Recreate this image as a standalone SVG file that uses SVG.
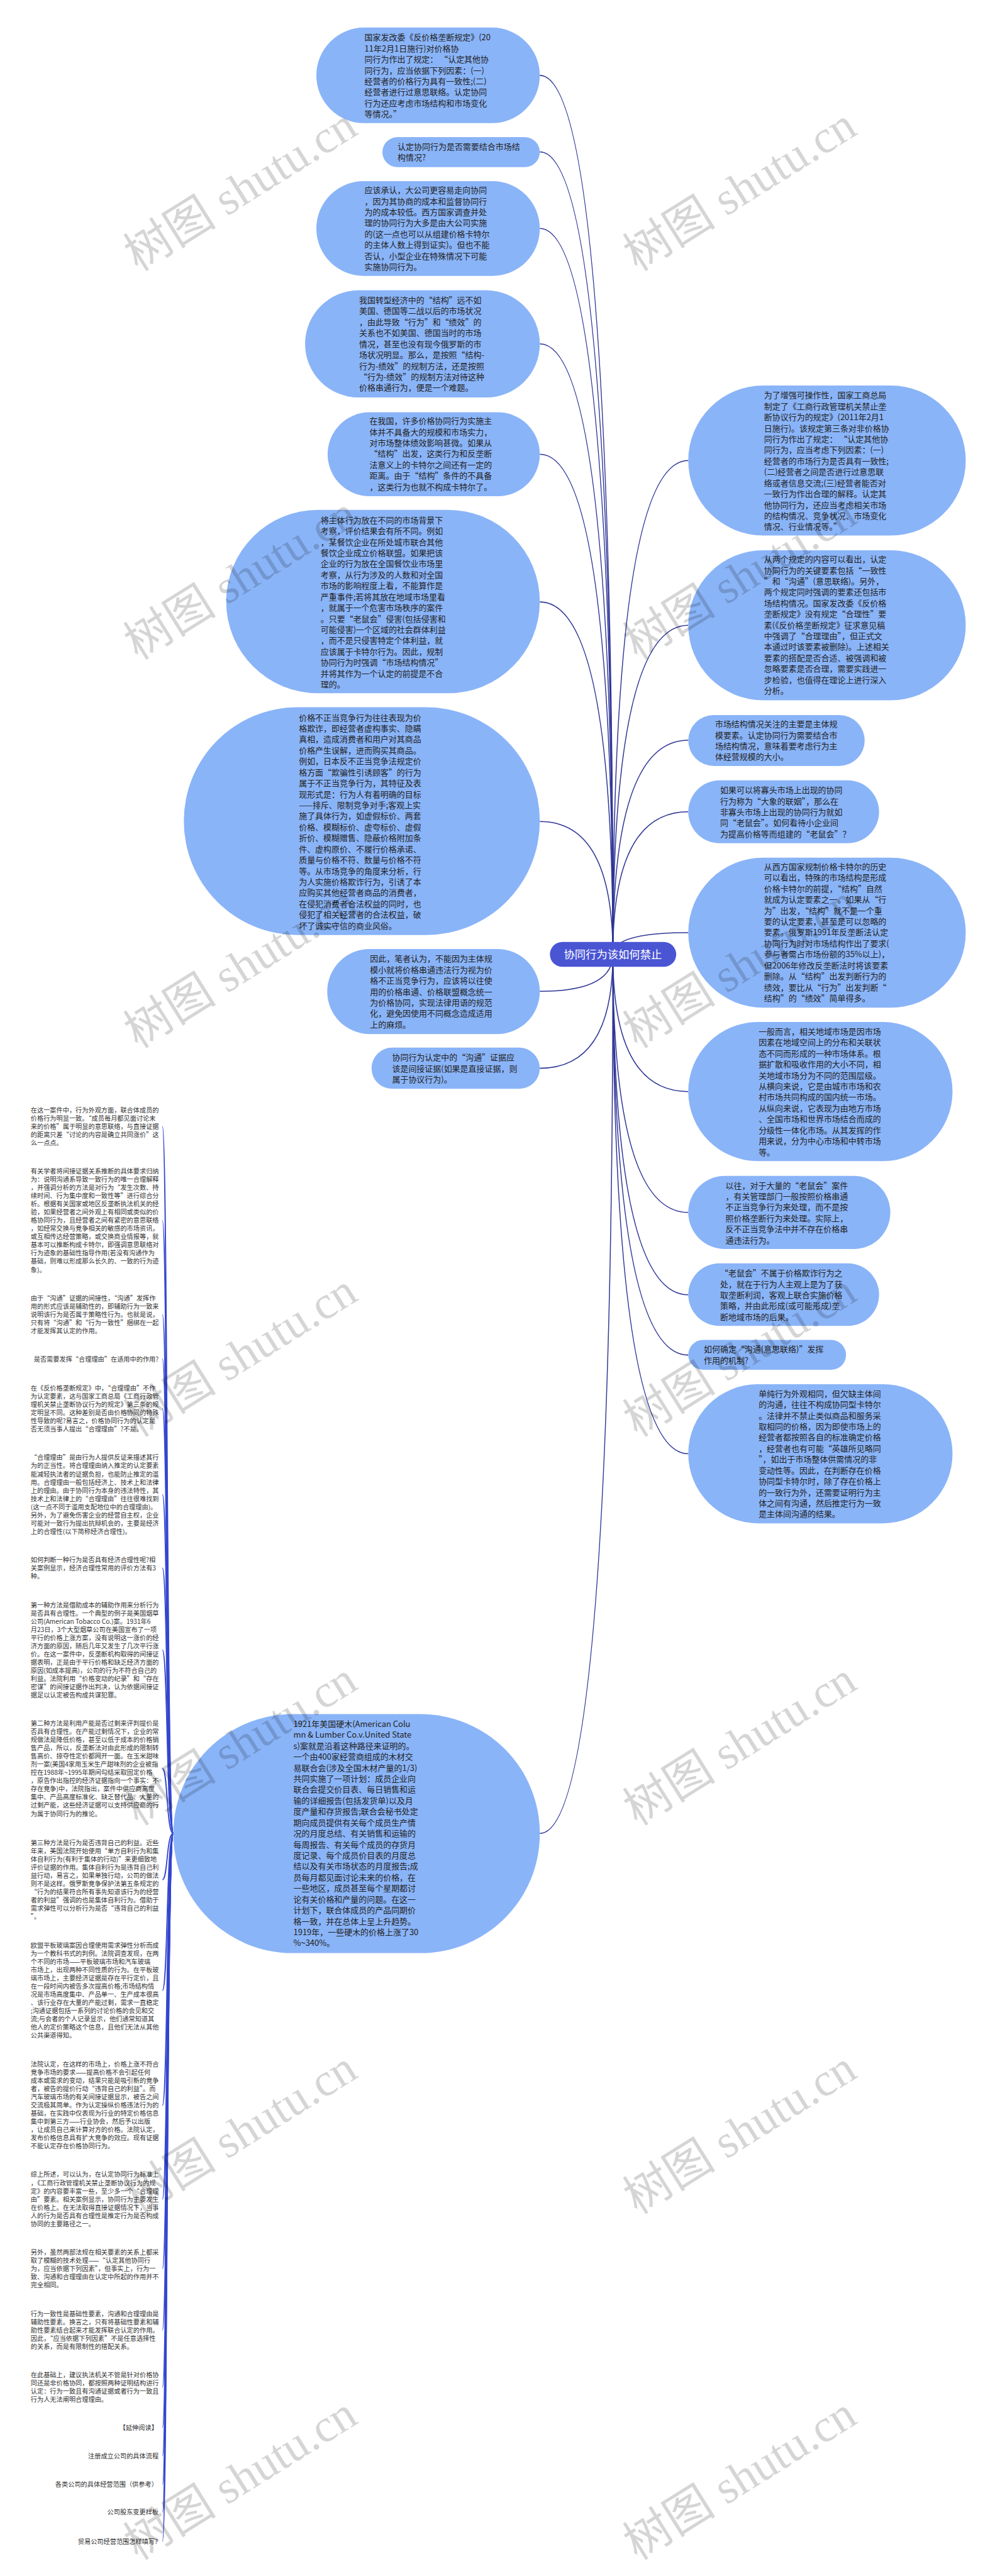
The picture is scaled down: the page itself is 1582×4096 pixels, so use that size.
<svg xmlns="http://www.w3.org/2000/svg" width="1582" height="4096" viewBox="0 0 1582 4096">
<style>
.b{fill:#8ab4f8}
.t{font-family:"Noto Sans CJK SC","Microsoft YaHei",sans-serif;font-size:21px;fill:#222}
.s{font-family:"Noto Sans CJK SC","Microsoft YaHei",sans-serif;font-size:16.5px;fill:#333}
.c{fill:none;stroke:#2f3596;stroke-width:2.5}
.c2{fill:none;stroke:#3446cf;stroke-width:3}
.wm{font-family:"Liberation Serif","Noto Sans CJK SC",serif;font-size:120px;fill:#000;opacity:.16}
</style>
<rect width="1582" height="4096" fill="#fff"/>
<g transform="scale(0.6179)">
<g id="connectors">
<path class="c" d="M1577 2456 Q1577 194 1389 194"/>
<path class="c" d="M1577 2456 Q1577 391 1389 391"/>
<path class="c" d="M1577 2456 Q1577 588 1389 588"/>
<path class="c" d="M1577 2456 Q1577 885 1389 885"/>
<path class="c" d="M1577 2456 Q1577 1169 1389 1169"/>
<path class="c" d="M1577 2456 Q1577 1549 1389 1549"/>
<path class="c" d="M1577 2456 Q1577 2114 1389 2114"/>
<path class="c" d="M1577 2456 Q1577 2551 1389 2551"/>
<path class="c" d="M1577 2456 Q1577 2749 1389 2749"/>
<path class="c" d="M1577 2456 Q1577 4718 1389 4718"/>
<path class="c" d="M1577 2456 Q1577 1185 1771 1185"/>
<path class="c" d="M1577 2456 Q1577 1609 1771 1609"/>
<path class="c" d="M1577 2456 Q1577 1905 1771 1905"/>
<path class="c" d="M1577 2456 Q1577 2089 1771 2089"/>
<path class="c" d="M1577 2456 Q1577 2400 1771 2400"/>
<path class="c" d="M1577 2456 Q1577 2809 1771 2809"/>
<path class="c" d="M1577 2456 Q1577 3120 1771 3120"/>
<path class="c" d="M1577 2456 Q1577 3332 1771 3332"/>
<path class="c" d="M1577 2456 Q1577 3487 1771 3487"/>
<path class="c" d="M1577 2456 Q1577 3741 1771 3741"/>
<path class="c2" d="M446 4718 C428 4718 432 2899 418 2899"/>
<path class="c2" d="M446 4718 C428 4718 432 3141 418 3141"/>
<path class="c2" d="M446 4718 C428 4718 432 3383 418 3383"/>
<path class="c2" d="M446 4718 C428 4718 432 3497 418 3497"/>
<path class="c2" d="M446 4718 C428 4718 432 3625 418 3625"/>
<path class="c2" d="M446 4718 C428 4718 432 3846 418 3846"/>
<path class="c2" d="M446 4718 C428 4718 432 4035 418 4035"/>
<path class="c2" d="M446 4718 C428 4718 432 4246 418 4246"/>
<path class="c2" d="M446 4718 C428 4718 432 4551 418 4551"/>
<path class="c2" d="M446 4718 C428 4718 432 4837 418 4837"/>
<path class="c2" d="M446 4718 C428 4718 432 5122 418 5122"/>
<path class="c2" d="M446 4718 C428 4718 432 5418 418 5418"/>
<path class="c2" d="M446 4718 C428 4718 432 5659 418 5659"/>
<path class="c2" d="M446 4718 C428 4718 432 5838 418 5838"/>
<path class="c2" d="M446 4718 C428 4718 432 5996 418 5996"/>
<path class="c2" d="M446 4718 C428 4718 432 6143 418 6143"/>
<path class="c2" d="M446 4718 C428 4718 432 6247 418 6247"/>
<path class="c2" d="M446 4718 C428 4718 432 6320 418 6320"/>
<path class="c2" d="M446 4718 C428 4718 432 6393 418 6393"/>
<path class="c2" d="M446 4718 C428 4718 432 6465 418 6465"/>
<path class="c2" d="M446 4718 C428 4718 432 6540 418 6540"/>
</g>
<g id="root">
<rect x="1415" y="2424" width="325" height="64" rx="32" fill="#4a55d4"/>
<text x="1577" y="2466" text-anchor="middle" font-family="Noto Sans CJK SC,sans-serif" font-size="28" fill="#fff">协同行为该如何禁止</text>
</g>
<g id="nA"><rect class="b" x="814" y="71" width="575" height="246" rx="123"/>
<text class="t" y="104"><tspan x="938">国家发改委《反价格垄断规定》(20</tspan><tspan x="938" dy="28.2">11年2月1日施行)对价格协</tspan><tspan x="938" dy="28.2">同行为作出了规定： “认定其他协</tspan><tspan x="938" dy="28.2">同行为，应当依据下列因素：(一)</tspan><tspan x="938" dy="28.2">经营者的价格行为具有一致性;(二)</tspan><tspan x="938" dy="28.2">经营者进行过意思联络。认定协同</tspan><tspan x="938" dy="28.2">行为还应考虑市场结构和市场变化</tspan><tspan x="938" dy="28.2">等情况。”</tspan></text></g>
<g id="nB"><rect class="b" x="984" y="353" width="405" height="77" rx="38.5"/>
<text class="t" y="385"><tspan x="1023">认定协同行为是否需要结合市场结</tspan><tspan x="1023" dy="28.2">构情况?</tspan></text></g>
<g id="nC"><rect class="b" x="814" y="466" width="575" height="244" rx="122"/>
<text class="t" y="497"><tspan x="938">应该承认，大公司更容易走向协同</tspan><tspan x="938" dy="28.2">，因为其协商的成本和监督协同行</tspan><tspan x="938" dy="28.2">为的成本较低。西方国家调查并处</tspan><tspan x="938" dy="28.2">理的协同行为大多是由大公司实施</tspan><tspan x="938" dy="28.2">的(这一点也可以从组建价格卡特尔</tspan><tspan x="938" dy="28.2">的主体人数上得到证实)。但也不能</tspan><tspan x="938" dy="28.2">否认，小型企业在特殊情况下可能</tspan><tspan x="938" dy="28.2">实施协同行为。</tspan></text></g>
<g id="nD"><rect class="b" x="785" y="747" width="604" height="276" rx="138"/>
<text class="t" y="780"><tspan x="924">我国转型经济中的“结构”远不如</tspan><tspan x="924" dy="28.2">美国、德国等二战以后的市场状况</tspan><tspan x="924" dy="28.2">，由此导致“行为”和“绩效”的</tspan><tspan x="924" dy="28.2">关系也不如美国、德国当时的市场</tspan><tspan x="924" dy="28.2">情况，甚至也没有现今俄罗斯的市</tspan><tspan x="924" dy="28.2">场状况明显。那么，是按照“结构-</tspan><tspan x="924" dy="28.2">行为-绩效”的规制方法，还是按照</tspan><tspan x="924" dy="28.2">“行为-绩效”的规制方法对待这种</tspan><tspan x="924" dy="28.2">价格串通行为，便是一个难题。</tspan></text></g>
<g id="nE"><rect class="b" x="843" y="1061" width="546" height="216" rx="108"/>
<text class="t" y="1091"><tspan x="951">在我国，许多价格协同行为实施主</tspan><tspan x="951" dy="28.2">体并不具备大的规模和市场实力，</tspan><tspan x="951" dy="28.2">对市场整体绩效影响甚微。如果从</tspan><tspan x="951" dy="28.2">“结构”出发，这类行为和反垄断</tspan><tspan x="951" dy="28.2">法意义上的卡特尔之间还有一定的</tspan><tspan x="951" dy="28.2">距离。由于“结构”条件的不具备</tspan><tspan x="951" dy="28.2">，这类行为也就不构成卡特尔了。</tspan></text></g>
<g id="nF"><rect class="b" x="582" y="1312" width="807" height="472" rx="236"/>
<text class="t" y="1346"><tspan x="825">将主体行为放在不同的市场背景下</tspan><tspan x="825" dy="28.2">考察，评价结果会有所不同。例如</tspan><tspan x="825" dy="28.2">，某餐饮企业在所处城市联合其他</tspan><tspan x="825" dy="28.2">餐饮企业成立价格联盟。如果把该</tspan><tspan x="825" dy="28.2">企业的行为放在全国餐饮业市场里</tspan><tspan x="825" dy="28.2">考察，从行为涉及的人数和对全国</tspan><tspan x="825" dy="28.2">市场的影响程度上看，不能算作是</tspan><tspan x="825" dy="28.2">严重事件;若将其放在地域市场里看</tspan><tspan x="825" dy="28.2">，就属于一个危害市场秩序的案件</tspan><tspan x="825" dy="28.2">。只要“老鼠会”侵害(包括侵害和</tspan><tspan x="825" dy="28.2">可能侵害)一个区域的社会群体利益</tspan><tspan x="825" dy="28.2">，而不是只侵害特定个体利益，就</tspan><tspan x="825" dy="28.2">应该属于卡特尔行为。因此，规制</tspan><tspan x="825" dy="28.2">协同行为时强调“市场结构情况”</tspan><tspan x="825" dy="28.2">并将其作为一个认定的前提是不合</tspan><tspan x="825" dy="28.2">理的。</tspan></text></g>
<g id="nG"><rect class="b" x="473" y="1820" width="916" height="586" rx="293"/>
<text class="t" y="1854"><tspan x="769">价格不正当竞争行为往往表现为价</tspan><tspan x="769" dy="28.2">格欺诈，即经营者虚构事实、隐瞒</tspan><tspan x="769" dy="28.2">真相，造成消费者和用户对其商品</tspan><tspan x="769" dy="28.2">价格产生误解，进而购买其商品。</tspan><tspan x="769" dy="28.2">例如，日本反不正当竞争法规定价</tspan><tspan x="769" dy="28.2">格方面“欺骗性引诱顾客”的行为</tspan><tspan x="769" dy="28.2">属于不正当竞争行为，其特征及表</tspan><tspan x="769" dy="28.2">现形式是：行为人有着明确的目标</tspan><tspan x="769" dy="28.2">——排斥、限制竞争对手;客观上实</tspan><tspan x="769" dy="28.2">施了具体行为，如虚假标价、两套</tspan><tspan x="769" dy="28.2">价格、模糊标价、虚夸标价、虚假</tspan><tspan x="769" dy="28.2">折价、模糊赠售、隐蔽价格附加条</tspan><tspan x="769" dy="28.2">件、虚构原价、不履行价格承诺、</tspan><tspan x="769" dy="28.2">质量与价格不符、数量与价格不符</tspan><tspan x="769" dy="28.2">等。从市场竞争的角度来分析，行</tspan><tspan x="769" dy="28.2">为人实施价格欺诈行为，引诱了本</tspan><tspan x="769" dy="28.2">应购买其他经营者商品的消费者，</tspan><tspan x="769" dy="28.2">在侵犯消费者合法权益的同时，也</tspan><tspan x="769" dy="28.2">侵犯了相关经营者的合法权益，破</tspan><tspan x="769" dy="28.2">坏了诚实守信的商业风俗。</tspan></text></g>
<g id="nH"><rect class="b" x="842" y="2442" width="547" height="219" rx="109.5"/>
<text class="t" y="2475"><tspan x="952">因此，笔者认为，不能因为主体规</tspan><tspan x="952" dy="28.2">模小就将价格串通违法行为视为价</tspan><tspan x="952" dy="28.2">格不正当竞争行为，应该将以往使</tspan><tspan x="952" dy="28.2">用的价格串通、价格联盟概念统一</tspan><tspan x="952" dy="28.2">为价格协同，实现法律用语的规范</tspan><tspan x="952" dy="28.2">化，避免因使用不同概念造成适用</tspan><tspan x="952" dy="28.2">上的麻烦。</tspan></text></g>
<g id="nI"><rect class="b" x="956" y="2696" width="433" height="106" rx="53"/>
<text class="t" y="2729"><tspan x="1009">协同行为认定中的“沟通”证据应</tspan><tspan x="1009" dy="28.2">该是间接证据(如果是直接证据，则</tspan><tspan x="1009" dy="28.2">属于协议行为)。</tspan></text></g>
<g id="nJ"><rect class="b" x="446" y="4411" width="943" height="615" rx="307"/>
<text class="t" y="4444"><tspan x="755">1921年美国硬木(American Colu</tspan><tspan x="755" dy="28.2">mn &amp; Lumber Co.v.United State</tspan><tspan x="755" dy="28.2">s)案就是沿着这种路径来证明的。</tspan><tspan x="755" dy="28.2">一个由400家经营商组成的木材交</tspan><tspan x="755" dy="28.2">易联合会(涉及全国木材产量的1/3)</tspan><tspan x="755" dy="28.2">共同实施了一项计划：成员企业向</tspan><tspan x="755" dy="28.2">联合会提交价目表、每日销售和运</tspan><tspan x="755" dy="28.2">输的详细报告(包括发货单)以及月</tspan><tspan x="755" dy="28.2">度产量和存货报告;联合会秘书处定</tspan><tspan x="755" dy="28.2">期向成员提供有关每个成员生产情</tspan><tspan x="755" dy="28.2">况的月度总结、有关销售和运输的</tspan><tspan x="755" dy="28.2">每周报告、有关每个成员的存货月</tspan><tspan x="755" dy="28.2">度记录、每个成员价目表的月度总</tspan><tspan x="755" dy="28.2">结以及有关市场状态的月度报告;成</tspan><tspan x="755" dy="28.2">员每月都见面讨论未来的价格，在</tspan><tspan x="755" dy="28.2">一些地区，成员甚至每个星期都讨</tspan><tspan x="755" dy="28.2">论有关价格和产量的问题。在这一</tspan><tspan x="755" dy="28.2">计划下，联合体成员的产品同期价</tspan><tspan x="755" dy="28.2">格一致，并在总体上呈上升趋势。</tspan><tspan x="755" dy="28.2">1919年，一些硬木的价格上涨了30</tspan><tspan x="755" dy="28.2">%~340%。</tspan></text></g>
<g id="nR1"><rect class="b" x="1771" y="992" width="714" height="386" rx="193"/>
<text class="t" y="1025"><tspan x="1966">为了增强可操作性，国家工商总局</tspan><tspan x="1966" dy="28.2">制定了《工商行政管理机关禁止垄</tspan><tspan x="1966" dy="28.2">断协议行为的规定》(2011年2月1</tspan><tspan x="1966" dy="28.2">日施行)。该规定第三条对非价格协</tspan><tspan x="1966" dy="28.2">同行为作出了规定： “认定其他协</tspan><tspan x="1966" dy="28.2">同行为，应当考虑下列因素：(一)</tspan><tspan x="1966" dy="28.2">经营者的市场行为是否具有一致性;</tspan><tspan x="1966" dy="28.2">(二)经营者之间是否进行过意思联</tspan><tspan x="1966" dy="28.2">络或者信息交流;(三)经营者能否对</tspan><tspan x="1966" dy="28.2">一致行为作出合理的解释。认定其</tspan><tspan x="1966" dy="28.2">他协同行为，还应当考虑相关市场</tspan><tspan x="1966" dy="28.2">的结构情况、竞争状况、市场变化</tspan><tspan x="1966" dy="28.2">情况、行业情况等。”</tspan></text></g>
<g id="nR2"><rect class="b" x="1771" y="1416" width="714" height="386" rx="193"/>
<text class="t" y="1447"><tspan x="1966">从两个规定的内容可以看出，认定</tspan><tspan x="1966" dy="28.2">协同行为的关键要素包括“一致性</tspan><tspan x="1966" dy="28.2">”和“沟通”(意思联络)。另外，</tspan><tspan x="1966" dy="28.2">两个规定同时强调的要素还包括市</tspan><tspan x="1966" dy="28.2">场结构情况。国家发改委《反价格</tspan><tspan x="1966" dy="28.2">垄断规定》没有规定“合理性”要</tspan><tspan x="1966" dy="28.2">素(《反价格垄断规定》征求意见稿</tspan><tspan x="1966" dy="28.2">中强调了“合理理由”，但正式文</tspan><tspan x="1966" dy="28.2">本通过时该要素被删除)。上述相关</tspan><tspan x="1966" dy="28.2">要素的搭配是否合适、被强调和被</tspan><tspan x="1966" dy="28.2">忽略要素是否合理，需要实践进一</tspan><tspan x="1966" dy="28.2">步检验，也值得在理论上进行深入</tspan><tspan x="1966" dy="28.2">分析。</tspan></text></g>
<g id="nR3"><rect class="b" x="1771" y="1840" width="454" height="131" rx="65.5"/>
<text class="t" y="1871"><tspan x="1840">市场结构情况关注的主要是主体规</tspan><tspan x="1840" dy="28.2">模要素。认定协同行为需要结合市</tspan><tspan x="1840" dy="28.2">场结构情况，意味着要考虑行为主</tspan><tspan x="1840" dy="28.2">体经营规模的大小。</tspan></text></g>
<g id="nR4"><rect class="b" x="1771" y="2008" width="491" height="162" rx="81"/>
<text class="t" y="2041"><tspan x="1853">如果可以将寡头市场上出现的协同</tspan><tspan x="1853" dy="28.2">行为称为“大象的联姻”，那么在</tspan><tspan x="1853" dy="28.2">非寡头市场上出现的协同行为就如</tspan><tspan x="1853" dy="28.2">同“老鼠会”。如何看待小企业间</tspan><tspan x="1853" dy="28.2">为提高价格等而组建的“老鼠会”？</tspan></text></g>
<g id="nR5"><rect class="b" x="1771" y="2207" width="714" height="386" rx="193"/>
<text class="t" y="2238"><tspan x="1966">从西方国家规制价格卡特尔的历史</tspan><tspan x="1966" dy="28.2">可以看出，特殊的市场结构是形成</tspan><tspan x="1966" dy="28.2">价格卡特尔的前提，“结构”自然</tspan><tspan x="1966" dy="28.2">就成为认定要素之一。如果从“行</tspan><tspan x="1966" dy="28.2">为”出发，“结构”就不是一个重</tspan><tspan x="1966" dy="28.2">要的认定要素，甚至是可以忽略的</tspan><tspan x="1966" dy="28.2">要素。俄罗斯1991年反垄断法认定</tspan><tspan x="1966" dy="28.2">协同行为时对市场结构作出了要求(</tspan><tspan x="1966" dy="28.2">参与者需占市场份额的35%以上)，</tspan><tspan x="1966" dy="28.2">但2006年修改反垄断法时将该要素</tspan><tspan x="1966" dy="28.2">删除。从“结构”出发判断行为的</tspan><tspan x="1966" dy="28.2">绩效，要比从“行为”出发判断“</tspan><tspan x="1966" dy="28.2">结构”的“绩效”简单得多。</tspan></text></g>
<g id="nR6"><rect class="b" x="1771" y="2630" width="680" height="358" rx="179"/>
<text class="t" y="2662"><tspan x="1952">一般而言，相关地域市场是因市场</tspan><tspan x="1952" dy="28.2">因素在地域空间上的分布和关联状</tspan><tspan x="1952" dy="28.2">态不同而形成的一种市场体系。根</tspan><tspan x="1952" dy="28.2">据扩散和吸收作用的大小不同，相</tspan><tspan x="1952" dy="28.2">关地域市场分为不同的范围层级。</tspan><tspan x="1952" dy="28.2">从横向来说，它是由城市市场和农</tspan><tspan x="1952" dy="28.2">村市场共同构成的国内统一市场。</tspan><tspan x="1952" dy="28.2">从纵向来说，它表现为由地方市场</tspan><tspan x="1952" dy="28.2">、全国市场和世界市场结合而成的</tspan><tspan x="1952" dy="28.2">分级性一体化市场。从其发挥的作</tspan><tspan x="1952" dy="28.2">用来说，分为中心市场和中转市场</tspan><tspan x="1952" dy="28.2">等。</tspan></text></g>
<g id="nR7"><rect class="b" x="1771" y="3026" width="520" height="188" rx="94"/>
<text class="t" y="3058"><tspan x="1867">以往，对于大量的“老鼠会”案件</tspan><tspan x="1867" dy="28.2">，有关管理部门一般按照价格串通</tspan><tspan x="1867" dy="28.2">不正当竞争行为来处理，而不是按</tspan><tspan x="1867" dy="28.2">照价格垄断行为来处理。实际上，</tspan><tspan x="1867" dy="28.2">反不正当竞争法中并不存在价格串</tspan><tspan x="1867" dy="28.2">通违法行为。</tspan></text></g>
<g id="nR8"><rect class="b" x="1771" y="3251" width="491" height="161" rx="80.5"/>
<text class="t" y="3284"><tspan x="1853">“老鼠会”不属于价格欺诈行为之</tspan><tspan x="1853" dy="28.2">处，就在于行为人主观上是为了获</tspan><tspan x="1853" dy="28.2">取垄断利润，客观上联合实施价格</tspan><tspan x="1853" dy="28.2">策略，并由此形成(或可能形成)垄</tspan><tspan x="1853" dy="28.2">断地域市场的后果。</tspan></text></g>
<g id="nR9"><rect class="b" x="1771" y="3448" width="406" height="77" rx="38.5"/>
<text class="t" y="3480"><tspan x="1811">如何确定“沟通(意思联络)”发挥</tspan><tspan x="1811" dy="28.2">作用的机制?</tspan></text></g>
<g id="nR10"><rect class="b" x="1771" y="3562" width="680" height="358" rx="179"/>
<text class="t" y="3594"><tspan x="1952">单纯行为外观相同，但欠缺主体间</tspan><tspan x="1952" dy="28.2">的沟通，往往不构成协同型卡特尔</tspan><tspan x="1952" dy="28.2">。法律并不禁止类似商品和服务采</tspan><tspan x="1952" dy="28.2">取相同的价格，因为即使市场上的</tspan><tspan x="1952" dy="28.2">经营者都按照各自的标准确定价格</tspan><tspan x="1952" dy="28.2">，经营者也有可能“英雄所见略同</tspan><tspan x="1952" dy="28.2">”，如出于市场整体供需情况的非</tspan><tspan x="1952" dy="28.2">变动性等。因此，在判断存在价格</tspan><tspan x="1952" dy="28.2">协同型卡特尔时，除了存在价格上</tspan><tspan x="1952" dy="28.2">的一致行为外，还需要证明行为主</tspan><tspan x="1952" dy="28.2">体之间有沟通，然后推定行为一致</tspan><tspan x="1952" dy="28.2">是主体间沟通的结果。</tspan></text></g>
<g id="nT1"><text class="s" y="2863"><tspan x="79">在这一案件中，行为外观方面，联合体成员的</tspan><tspan x="79" dy="21.1">价格行为明显一致。“成员每月都见面讨论未</tspan><tspan x="79" dy="21.1">来的价格”属于明显的意思联络，与直接证据</tspan><tspan x="79" dy="21.1">的距离只差“讨论的内容是确立共同涨价”这</tspan><tspan x="79" dy="21.1">么一点点。</tspan></text></g>
<g id="nT2"><text class="s" y="3020"><tspan x="79">有关学者将间接证据关系推断的具体要求归纳</tspan><tspan x="79" dy="21.1">为：说明沟通系导致一致行为的唯一合理解释</tspan><tspan x="79" dy="21.1">，并强调分析的方法是对行为“发生次数、持</tspan><tspan x="79" dy="21.1">续时间、行为集中度和一致性等”进行综合分</tspan><tspan x="79" dy="21.1">析。根据有关国家或地区反垄断执法机关的经</tspan><tspan x="79" dy="21.1">验，如果经营者之间外观上有相同或类似的价</tspan><tspan x="79" dy="21.1">格协同行为，且经营者之间有紧密的意思联络</tspan><tspan x="79" dy="21.1">，如经常交换与竞争相关的敏感的市场资讯，</tspan><tspan x="79" dy="21.1">或互相传达经营策略，或交换商业情报等，就</tspan><tspan x="79" dy="21.1">基本可以推断构成卡特尔，即强调意思联络对</tspan><tspan x="79" dy="21.1">行为迹象的基础性指导作用(若没有沟通作为</tspan><tspan x="79" dy="21.1">基础，则难以形成那么长久的、一致的行为迹</tspan><tspan x="79" dy="21.1">象)。</tspan></text></g>
<g id="nT3"><text class="s" y="3347"><tspan x="79">由于“沟通”证据的间接性，“沟通”发挥作</tspan><tspan x="79" dy="21.1">用的形式应该是辅助性的，即辅助行为一致来</tspan><tspan x="79" dy="21.1">说明该行为是否属于策略性行为。也就是说，</tspan><tspan x="79" dy="21.1">只有将“沟通”和“行为一致性”捆绑在一起</tspan><tspan x="79" dy="21.1">才能发挥其认定的作用。</tspan></text></g>
<g id="nT4"><text class="s" x="408" y="3503" text-anchor="end">是否需要发挥“合理理由”在适用中的作用?</text></g>
<g id="nT5"><text class="s" y="3578"><tspan x="79">在《反价格垄断规定》中，“合理理由”不作</tspan><tspan x="79" dy="21.1">为认定要素，这与国家工商总局《工商行政管</tspan><tspan x="79" dy="21.1">理机关禁止垄断协议行为的规定》第三条的规</tspan><tspan x="79" dy="21.1">定明显不同。这种差别是否由价格协同的特殊</tspan><tspan x="79" dy="21.1">性导致的呢?易言之，价格协同行为的认定是</tspan><tspan x="79" dy="21.1">否无须当事人提出“合理理由”?不是。</tspan></text></g>
<g id="nT6"><text class="s" y="3757"><tspan x="79">“合理理由”是由行为人提供反证来描述其行</tspan><tspan x="79" dy="21.1">为的正当性。将合理理由纳入推定的认定要素</tspan><tspan x="79" dy="21.1">能减轻执法者的证据负担，也能防止推定的滥</tspan><tspan x="79" dy="21.1">用。合理理由一般包括经济上、技术上和法律</tspan><tspan x="79" dy="21.1">上的理由。由于协同行为本身的违法特性，其</tspan><tspan x="79" dy="21.1">技术上和法律上的“合理理由”往往很难找到</tspan><tspan x="79" dy="21.1">(这一点不同于滥用支配地位中的合理理由)。</tspan><tspan x="79" dy="21.1">另外，为了避免伤害企业的经营自主权，企业</tspan><tspan x="79" dy="21.1">可能对一致行为提出抗辩机会的，主要是经济</tspan><tspan x="79" dy="21.1">上的合理性(以下简称经济合理性)。</tspan></text></g>
<g id="nT7"><text class="s" y="4020"><tspan x="79">如何判断一种行为是否具有经济合理性呢?相</tspan><tspan x="79" dy="21.1">关案例显示，经济合理性常用的评价方法有3</tspan><tspan x="79" dy="21.1">种。</tspan></text></g>
<g id="nT8"><text class="s" y="4136"><tspan x="79">第一种方法是借助成本的辅助作用来分析行为</tspan><tspan x="79" dy="21.1">是否具有合理性。一个典型的例子是美国烟草</tspan><tspan x="79" dy="21.1">公司(American Tobacco Co.)案。1931年6</tspan><tspan x="79" dy="21.1">月23日，3个大型烟草公司在美国宣布了一项</tspan><tspan x="79" dy="21.1">平行的价格上涨方案，没有说明这一涨价的经</tspan><tspan x="79" dy="21.1">济方面的原因，随后几年又发生了几次平行涨</tspan><tspan x="79" dy="21.1">价。在这一案件中，反垄断机构取得的间接证</tspan><tspan x="79" dy="21.1">据表明，正是由于平行价格和缺乏经济方面的</tspan><tspan x="79" dy="21.1">原因(如成本提高)，公司的行为不符合自己的</tspan><tspan x="79" dy="21.1">利益。法院利用“价格变动的纪录”和“存在</tspan><tspan x="79" dy="21.1">密谋”的间接证据作出判决，认为依据间接证</tspan><tspan x="79" dy="21.1">据足以认定被告构成共谋犯罪。</tspan></text></g>
<g id="nT9"><text class="s" y="4441"><tspan x="79">第二种方法是利用产能是否过剩来评判提价是</tspan><tspan x="79" dy="21.1">否具有合理性。在产能过剩情况下，企业的常</tspan><tspan x="79" dy="21.1">规做法是降低价格，甚至以低于成本的价格销</tspan><tspan x="79" dy="21.1">售产品，所以，反垄断法对由此形成的限制转</tspan><tspan x="79" dy="21.1">售高价、掠夺性定价都网开一面。在玉米甜味</tspan><tspan x="79" dy="21.1">剂一案(美国4家用玉米生产甜味剂的企业被指</tspan><tspan x="79" dy="21.1">控在1988年~1995年期间勾结采取固定价格</tspan><tspan x="79" dy="21.1">，原告作出指控的经济证据指向一个事实：不</tspan><tspan x="79" dy="21.1">存在竞争)中，法院指出，案件中供应商高度</tspan><tspan x="79" dy="21.1">集中、产品高度标准化、缺乏替代品、大量的</tspan><tspan x="79" dy="21.1">过剩产能，这些经济证据可以支持供应商的行</tspan><tspan x="79" dy="21.1">为属于协同行为的推论。</tspan></text></g>
<g id="nT10"><text class="s" y="4748"><tspan x="79">第三种方法是行为是否违背自己的利益。近些</tspan><tspan x="79" dy="21.1">年来，美国法院开始使用“单方自利行为和集</tspan><tspan x="79" dy="21.1">体自利行为(有利于集体的行动)”来更细致地</tspan><tspan x="79" dy="21.1">评价证据的作用。集体自利行为是违背自己利</tspan><tspan x="79" dy="21.1">益行动，易言之，如果单独行动，公司的做法</tspan><tspan x="79" dy="21.1">则不是这样。俄罗斯竞争保护法第五条规定的</tspan><tspan x="79" dy="21.1">“行为的结果符合所有事先知道该行为的经营</tspan><tspan x="79" dy="21.1">者的利益”强调的也是集体自利行为。借助于</tspan><tspan x="79" dy="21.1">需求弹性可以分析行为是否“违背自己的利益</tspan><tspan x="79" dy="21.1">”。</tspan></text></g>
<g id="nT11"><text class="s" y="5012"><tspan x="79">欧盟平板玻璃案因合理使用需求弹性分析而成</tspan><tspan x="79" dy="21.1">为一个教科书式的判例。法院调查发现，在两</tspan><tspan x="79" dy="21.1">个不同的市场——平板玻璃市场和汽车玻璃</tspan><tspan x="79" dy="21.1">市场上，出现两种不同性质的行为。在平板玻</tspan><tspan x="79" dy="21.1">璃市场上，主要经济证据是存在平行定价，且</tspan><tspan x="79" dy="21.1">在一段时间内被告多次提高价格;市场结构情</tspan><tspan x="79" dy="21.1">况是市场高度集中、产品单一、生产成本很高</tspan><tspan x="79" dy="21.1">、该行业存在大量的产能过剩，需求一直稳定</tspan><tspan x="79" dy="21.1">;沟通证据包括一系列的讨论价格的会见和交</tspan><tspan x="79" dy="21.1">流;与会者的个人记录显示，他们通常知道其</tspan><tspan x="79" dy="21.1">他人的定价策略这个信息，且他们无法从其他</tspan><tspan x="79" dy="21.1">公共渠道得知。</tspan></text></g>
<g id="nT12"><text class="s" y="5318"><tspan x="79">法院认定，在这样的市场上，价格上涨不符合</tspan><tspan x="79" dy="21.1">竞争市场的要求——提高价格不会引起任何</tspan><tspan x="79" dy="21.1">成本或需求的变动，结果只能是吸引新的竞争</tspan><tspan x="79" dy="21.1">者，被告的提价行动“违背自己的利益”。而</tspan><tspan x="79" dy="21.1">汽车玻璃市场的有关间接证据显示，被告之间</tspan><tspan x="79" dy="21.1">交流极其简单。作为认定操纵价格违法行为的</tspan><tspan x="79" dy="21.1">基础，在实践中仅表现为行业的特定价格信息</tspan><tspan x="79" dy="21.1">集中到第三方——行业协会，然后予以出版</tspan><tspan x="79" dy="21.1">，让成员自己来计算对方的价格。法院认定，</tspan><tspan x="79" dy="21.1">发布价格信息具有扩大竞争的效应。现有证据</tspan><tspan x="79" dy="21.1">不能认定存在价格协同行为。</tspan></text></g>
<g id="nT13"><text class="s" y="5602"><tspan x="79">综上所述，可以认为，在认定协同行为标准上</tspan><tspan x="79" dy="21.1">，《工商行政管理机关禁止垄断协议行为的规</tspan><tspan x="79" dy="21.1">定》的内容要丰富一些，至少多一个“合理理</tspan><tspan x="79" dy="21.1">由”要素。相关案例显示，协同行为主要发生</tspan><tspan x="79" dy="21.1">在价格上。在无法取得直接证据情况下，当事</tspan><tspan x="79" dy="21.1">人的行为是否具有合理性是推定行为是否构成</tspan><tspan x="79" dy="21.1">协同的主要路径之一。</tspan></text></g>
<g id="nT14"><text class="s" y="5802"><tspan x="79">另外，虽然两部法规在相关要素的关系上都采</tspan><tspan x="79" dy="21.1">取了模糊的技术处理——“认定其他协同行</tspan><tspan x="79" dy="21.1">为，应当依据下列因素”，但事实上，行为一</tspan><tspan x="79" dy="21.1">致、沟通和合理理由在认定中所起的作用并不</tspan><tspan x="79" dy="21.1">完全相同。</tspan></text></g>
<g id="nT15"><text class="s" y="5960"><tspan x="79">行为一致性是基础性要素，沟通和合理理由是</tspan><tspan x="79" dy="21.1">辅助性要素。换言之，只有将基础性要素和辅</tspan><tspan x="79" dy="21.1">助性要素结合起来才能发挥联合认定的作用。</tspan><tspan x="79" dy="21.1">因此，“应当依据下列因素”不是任意选择性</tspan><tspan x="79" dy="21.1">的关系，而是有限制性的搭配关系。</tspan></text></g>
<g id="nT16"><text class="s" y="6117"><tspan x="79">在此基础上，建议执法机关不管是针对价格协</tspan><tspan x="79" dy="21.1">同还是非价格协同，都按照两种证明结构进行</tspan><tspan x="79" dy="21.1">认定：行为一致且有沟通证据或者行为一致且</tspan><tspan x="79" dy="21.1">行为人无法阐明合理理由。</tspan></text></g>
<g id="nT17"><text class="s" x="406" y="6253" text-anchor="end">【延伸阅读】</text></g>
<g id="nT18"><text class="s" x="408" y="6326" text-anchor="end">注册成立公司的具体流程</text></g>
<g id="nT19"><text class="s" x="406" y="6399" text-anchor="end">各类公司的具体经营范围（供参考）</text></g>
<g id="nT20"><text class="s" x="408" y="6471" text-anchor="end">公司股东变更样板</text></g>
<g id="nT21"><text class="s" x="406" y="6546" text-anchor="end">贸易公司经营范围怎样填写?</text></g>
<g id="watermarks">
<text class="wm" x="355" y="700" transform="rotate(-32 355 700)">树图 shutu.cn</text>
<text class="wm" x="1640" y="700" transform="rotate(-32 1640 700)">树图 shutu.cn</text>
<text class="wm" x="355" y="1700" transform="rotate(-32 355 1700)">树图 shutu.cn</text>
<text class="wm" x="1640" y="1700" transform="rotate(-32 1640 1700)">树图 shutu.cn</text>
<text class="wm" x="355" y="2700" transform="rotate(-32 355 2700)">树图 shutu.cn</text>
<text class="wm" x="1640" y="2700" transform="rotate(-32 1640 2700)">树图 shutu.cn</text>
<text class="wm" x="355" y="3700" transform="rotate(-32 355 3700)">树图 shutu.cn</text>
<text class="wm" x="1640" y="3700" transform="rotate(-32 1640 3700)">树图 shutu.cn</text>
<text class="wm" x="355" y="4700" transform="rotate(-32 355 4700)">树图 shutu.cn</text>
<text class="wm" x="1640" y="4700" transform="rotate(-32 1640 4700)">树图 shutu.cn</text>
<text class="wm" x="355" y="5700" transform="rotate(-32 355 5700)">树图 shutu.cn</text>
<text class="wm" x="1640" y="5700" transform="rotate(-32 1640 5700)">树图 shutu.cn</text>
<text class="wm" x="355" y="6590" transform="rotate(-32 355 6590)">树图 shutu.cn</text>
<text class="wm" x="1640" y="6590" transform="rotate(-32 1640 6590)">树图 shutu.cn</text>
</g>
</g>
</svg>
